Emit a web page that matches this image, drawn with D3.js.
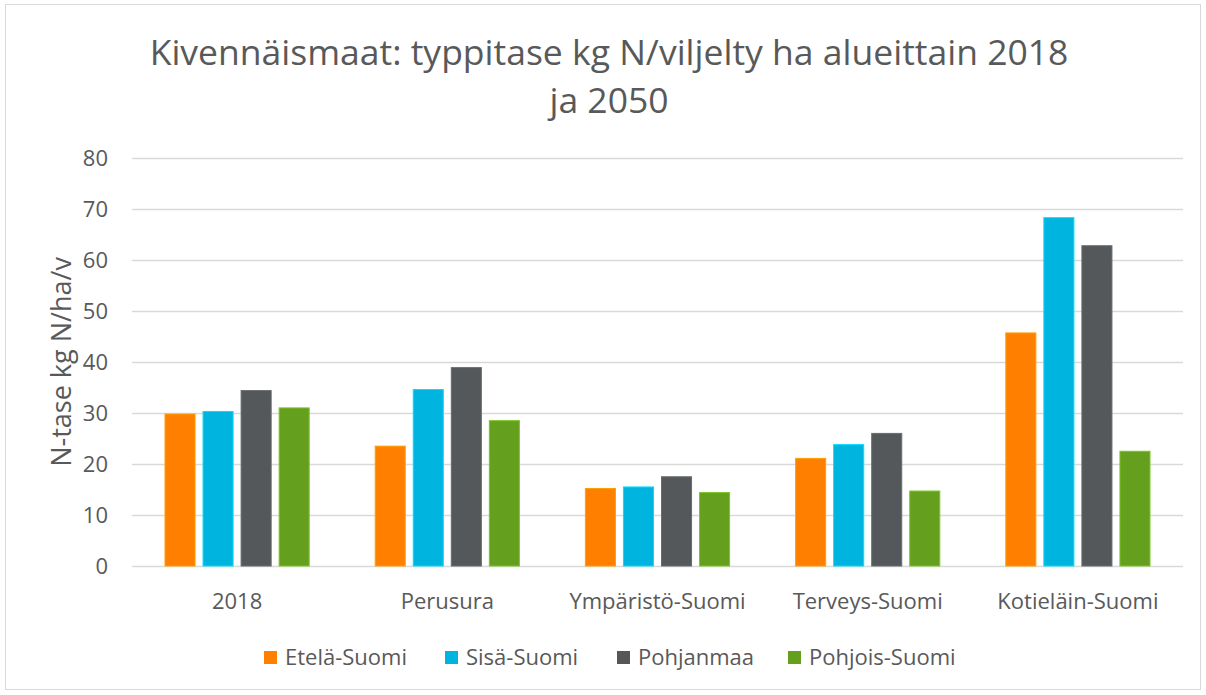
<!DOCTYPE html>
<html>
<head>
<meta charset="utf-8">
<script src="https://cdn.jsdelivr.net/npm/d3@7"></script>
<style>
  html, body { margin: 0; padding: 0; background: #fff; }
  svg text { font-family: "Open Sans", "Noto Sans", sans-serif; fill: #595959; }
</style>
</head>
<body>
<svg id="chart" width="1206" height="695"></svg>
<script>
// Typpitase (kg N/ha/v) kivennäismailla, alueittain ja skenaarioittain
const categories = ["2018", "Perusura", "Ympäristö-Suomi", "Terveys-Suomi", "Kotieläin-Suomi"];
const seriesNames = ["Etelä-Suomi", "Sisä-Suomi", "Pohjanmaa", "Pohjois-Suomi"];
const seriesColors = ["#FF8000", "#00B4E0", "#54585A", "#64A01E"];
const etelaSuomi   = [29.8, 23.5, 15.2, 21.1, 45.7];
const sisaSuomi    = [30.3, 34.6, 15.5, 23.8, 68.3];
const pohjanmaa    = [34.4, 38.9, 17.5, 26.0, 62.8];
const pohjoisSuomi = [31.0, 28.5, 14.4, 14.7, 22.5];
const yTicks = [0, 10, 20, 30, 40, 50, 60, 70, 80];
const titleLines = ["Kivennäismaat: typpitase kg N/viljelty ha alueittain 2018", "ja 2050"];
const yAxisTitle = "N-tase kg N/ha/v";

const seriesValues = [etelaSuomi, sisaSuomi, pohjanmaa, pohjoisSuomi];
const rows = categories.map((c, i) => ({
  category: c,
  values: seriesNames.map((s, j) => ({ series: s, color: seriesColors[j], value: seriesValues[j][i] }))
}));

const svg = d3.select("#chart");
const W = 1206, H = 695;
const plot = { left: 132, right: 1183, top: 158, bottom: 566 };

// chart frame
svg.append("rect")
  .attr("x", 5.5).attr("y", 4.5).attr("width", W - 11).attr("height", H - 10)
  .attr("fill", "#fff").attr("stroke", "#d9d9d9").attr("stroke-width", 1);

// title
svg.append("g").selectAll("text").data(titleLines).join("text")
  .attr("x", 609).attr("y", (d, i) => 65 + i * 48)
  .attr("text-anchor", "middle")
  .style("font-size", "35.5px")
  .text(d => d);

const y = d3.scaleLinear().domain([0, 80]).range([plot.bottom, plot.top]);
const x0 = d3.scaleBand().domain(categories).range([plot.left, plot.right]).padding(0);
const groupInset = 33;
const x1 = d3.scaleBand().domain(seriesNames)
  .range([groupInset, x0.bandwidth() - groupInset]).paddingInner(0.21).paddingOuter(0);

// gridlines
svg.append("g").selectAll("line").data(yTicks).join("line")
  .attr("x1", plot.left).attr("x2", plot.right)
  .attr("y1", d => Math.round(y(d)) + 0.5).attr("y2", d => Math.round(y(d)) + 0.5)
  .attr("stroke", "#d9d9d9").attr("stroke-width", 1.5);

// y axis labels
const yAxis = d3.axisLeft(y).tickValues(yTicks).tickSize(0).tickPadding(0);
const yg = svg.append("g").attr("transform", `translate(${plot.left - 24},0)`).call(yAxis);
yg.select(".domain").remove();
yg.selectAll("text").style("font-size", "22px").attr("fill", "#595959").attr("dy", "0.36em");

// y axis title
svg.append("text")
  .attr("transform", `translate(71,${(plot.top + plot.bottom) / 2}) rotate(-90)`)
  .attr("text-anchor", "middle")
  .style("font-size", "27px")
  .text(yAxisTitle);

// bars
const groups = svg.append("g").selectAll("g").data(rows).join("g")
  .attr("transform", d => `translate(${x0(d.category)},0)`);
groups.selectAll("rect").data(d => d.values).join("rect")
  .attr("x", d => x1(d.series))
  .attr("y", d => y(d.value))
  .attr("width", x1.bandwidth())
  .attr("height", d => y(0) - y(d.value))
  .attr("fill", d => d.color)
  .attr("stroke", d => d3.color(d.color).brighter(0.6))
  .attr("stroke-width", 1);

// x axis labels
const xAxis = d3.axisBottom(x0).tickSize(0).tickPadding(0);
const xg = svg.append("g").attr("transform", `translate(0,${plot.bottom + 43})`).call(xAxis);
xg.select(".domain").remove();
xg.selectAll("text").style("font-size", "22px").attr("fill", "#595959").attr("dy", "0");

// legend
const legendX = [264, 445, 617, 788];
const legend = svg.append("g").selectAll("g").data(seriesNames).join("g")
  .attr("transform", (d, i) => `translate(${legendX[i]},651)`);
legend.append("rect")
  .attr("width", 13).attr("height", 13)
  .attr("fill", (d, i) => seriesColors[i]);
legend.append("text")
  .attr("x", 21).attr("y", 6.5).attr("dy", "0.36em")
  .style("font-size", "22px")
  .text(d => d);
</script>
</body>
</html>
